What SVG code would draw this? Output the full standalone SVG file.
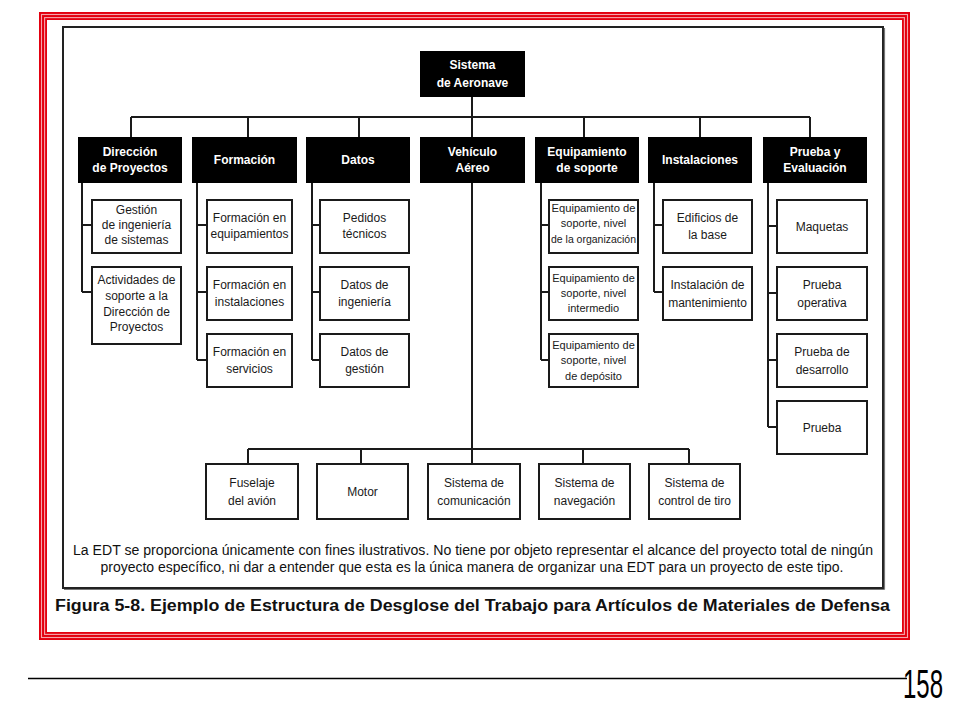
<svg xmlns="http://www.w3.org/2000/svg" width="960" height="720" viewBox="0 0 960 720">
<style>
.hdr{fill:#000}
.hl{font-family:"Liberation Sans",Arial,sans-serif;font-size:12px;font-weight:bold;fill:#fff;text-anchor:middle}
.box{fill:#fff;stroke:#1a1a1a;stroke-width:2}
.bl{font-family:"Liberation Sans",Arial,sans-serif;font-size:12px;fill:#1a1a1a;text-anchor:middle}
.sl{font-family:"Liberation Sans",Arial,sans-serif;font-size:11px;fill:#1a1a1a;text-anchor:middle}
.con{fill:none;stroke:#1a1a1a;stroke-width:2}
.note{font-family:"Liberation Sans",Arial,sans-serif;font-size:14px;fill:#111;text-anchor:middle}
</style>
<rect width="960" height="720" fill="#fff"/>
<!-- red frame -->
<g id="frame">
<rect x="43" y="16" width="863" height="620" fill="none" stroke="#e3000f" stroke-width="8"/>
<rect x="41.5" y="14.5" width="866" height="623" fill="none" stroke="#f4a6ad" stroke-width="1.1"/>
<rect x="44.6" y="17.6" width="859.8" height="616.8" fill="none" stroke="#f4a6ad" stroke-width="1.1"/>
<rect x="63" y="27" width="820" height="561" fill="none" stroke="#222" stroke-width="2"/>
<line x1="64" y1="589.5" x2="884.5" y2="589.5" stroke="#777" stroke-width="1.2"/>
<line x1="884.5" y1="28" x2="884.5" y2="589.5" stroke="#777" stroke-width="1.2"/>
</g>
<!-- connectors -->
<g id="connectors" class="con">
<path d="M472 97V137"/>
<path d="M131 117H810"/>
<path d="M131 117V137M248 117V137M359 117V137M584 117V137M700 117V137M810 117V137"/>
<path d="M82 183V292M82 225H92M82 292H92"/>
<path d="M197 183V360M197 225H207M197 292H207M197 360H207"/>
<path d="M312 183V360M312 225H320M312 292H320M312 360H320"/>
<path d="M541 183V360M541 225H549M541 292H549M541 360H549"/>
<path d="M654 183V292M654 225H663M654 292H663"/>
<path d="M768 183V427M768 226H777M768 293H777M768 360H777M768 427H777"/>
<path d="M472 183V464"/>
<path d="M248 449H689"/>
<path d="M248 449V464M361 449V464M583 449V464M689 449V464"/>
</g>
<!-- root -->
<g id="n-root"><rect class="hdr" x="420" y="51" width="105" height="46"/><text class="hl" x="472.5" y="69">Sistema</text><text class="hl" x="472.5" y="87">de Aeronave</text></g>
<!-- level 1 -->
<g id="n-direccion"><rect class="hdr" x="78" y="137" width="104" height="46"/><text class="hl" x="130" y="156">Dirección</text><text class="hl" x="130" y="172">de Proyectos</text></g>
<g id="n-formacion"><rect class="hdr" x="192" y="137" width="105" height="46"/><text class="hl" x="244.5" y="164">Formación</text></g>
<g id="n-datos"><rect class="hdr" x="306" y="137" width="104" height="46"/><text class="hl" x="358" y="164">Datos</text></g>
<g id="n-vehiculo"><rect class="hdr" x="420" y="137" width="105" height="46"/><text class="hl" x="472.5" y="156">Vehículo</text><text class="hl" x="472.5" y="172">Aéreo</text></g>
<g id="n-equipamiento"><rect class="hdr" x="535" y="137" width="104" height="46"/><text class="hl" x="587" y="156">Equipamiento</text><text class="hl" x="587" y="172">de soporte</text></g>
<g id="n-instalaciones"><rect class="hdr" x="648" y="137" width="104" height="46"/><text class="hl" x="700" y="164">Instalaciones</text></g>
<g id="n-prueba"><rect class="hdr" x="763" y="137" width="104" height="46"/><text class="hl" x="815" y="156">Prueba y</text><text class="hl" x="815" y="172">Evaluación</text></g>
<!-- Dirección children -->
<g id="n-gestion"><rect class="box" x="92" y="200" width="89" height="53"/><text class="bl" x="136.5" y="214">Gestión</text><text class="bl" x="136.5" y="229">de ingeniería</text><text class="bl" x="136.5" y="244">de sistemas</text></g>
<g id="n-actividades"><rect class="box" x="92" y="267" width="89" height="77"/><text class="bl" x="136.5" y="284">Actividades de</text><text class="bl" x="136.5" y="300">soporte a la</text><text class="bl" x="136.5" y="316">Dirección de</text><text class="bl" x="136.5" y="331">Proyectos</text></g>
<!-- Formación children -->
<g id="n-form-equip"><rect class="box" x="207" y="200" width="85" height="53"/><text class="bl" x="249.5" y="222">Formación en</text><text class="bl" x="249.5" y="238">equipamientos</text></g>
<g id="n-form-inst"><rect class="box" x="207" y="267" width="85" height="53"/><text class="bl" x="249.5" y="289">Formación en</text><text class="bl" x="249.5" y="306">instalaciones</text></g>
<g id="n-form-serv"><rect class="box" x="207" y="334" width="85" height="53"/><text class="bl" x="249.5" y="356">Formación en</text><text class="bl" x="249.5" y="373">servicios</text></g>
<!-- Datos children -->
<g id="n-pedidos"><rect class="box" x="320" y="200" width="89" height="53"/><text class="bl" x="364.5" y="222">Pedidos</text><text class="bl" x="364.5" y="238">técnicos</text></g>
<g id="n-datos-ing"><rect class="box" x="320" y="267" width="89" height="53"/><text class="bl" x="364.5" y="289">Datos de</text><text class="bl" x="364.5" y="306">ingeniería</text></g>
<g id="n-datos-gest"><rect class="box" x="320" y="334" width="89" height="53"/><text class="bl" x="364.5" y="356">Datos de</text><text class="bl" x="364.5" y="373">gestión</text></g>
<!-- Equipamiento children -->
<g id="n-eq-org"><rect class="box" x="549" y="200" width="89" height="53"/><text class="sl" x="593.5" y="212" textLength="84" lengthAdjust="spacingAndGlyphs">Equipamiento de</text><text class="sl" x="593.5" y="227">soporte, nivel</text><text class="sl" x="593.5" y="243" textLength="85" lengthAdjust="spacingAndGlyphs">de la organización</text></g>
<g id="n-eq-int"><rect class="box" x="549" y="267" width="89" height="53"/><text class="sl" x="593.5" y="282">Equipamiento de</text><text class="sl" x="593.5" y="297">soporte, nivel</text><text class="sl" x="593.5" y="312">intermedio</text></g>
<g id="n-eq-dep"><rect class="box" x="549" y="334" width="89" height="53"/><text class="sl" x="593.5" y="349">Equipamiento de</text><text class="sl" x="593.5" y="364">soporte, nivel</text><text class="sl" x="593.5" y="380">de depósito</text></g>
<!-- Instalaciones children -->
<g id="n-edificios"><rect class="box" x="663" y="200" width="89" height="53"/><text class="bl" x="707.5" y="222">Edificios de</text><text class="bl" x="707.5" y="239">la base</text></g>
<g id="n-mant"><rect class="box" x="663" y="267" width="89" height="53"/><text class="bl" x="707.5" y="289">Instalación de</text><text class="bl" x="707.5" y="307">mantenimiento</text></g>
<!-- Prueba children -->
<g id="n-maquetas"><rect class="box" x="777" y="200" width="90" height="53"/><text class="bl" x="822" y="231">Maquetas</text></g>
<g id="n-operativa"><rect class="box" x="777" y="267" width="90" height="53"/><text class="bl" x="822" y="289">Prueba</text><text class="bl" x="822" y="307">operativa</text></g>
<g id="n-desarrollo"><rect class="box" x="777" y="334" width="90" height="53"/><text class="bl" x="822" y="356">Prueba de</text><text class="bl" x="822" y="374">desarrollo</text></g>
<g id="n-prueba-final"><rect class="box" x="777" y="401" width="90" height="53"/><text class="bl" x="822" y="432">Prueba</text></g>
<!-- Vehículo children -->
<g id="n-fuselaje"><rect class="box" x="206" y="464" width="92" height="55"/><text class="bl" x="252" y="487">Fuselaje</text><text class="bl" x="252" y="505">del avión</text></g>
<g id="n-motor"><rect class="box" x="317" y="464" width="91" height="55"/><text class="bl" x="362.5" y="496">Motor</text></g>
<g id="n-comunicacion"><rect class="box" x="428" y="464" width="92" height="55"/><text class="bl" x="474" y="487">Sistema de</text><text class="bl" x="474" y="505">comunicación</text></g>
<g id="n-navegacion"><rect class="box" x="539" y="464" width="91" height="55"/><text class="bl" x="584.5" y="487">Sistema de</text><text class="bl" x="584.5" y="505">navegación</text></g>
<g id="n-tiro"><rect class="box" x="649" y="464" width="91" height="55"/><text class="bl" x="694.5" y="487">Sistema de</text><text class="bl" x="694.5" y="505">control de tiro</text></g>
<!-- notes -->
<g id="notes">
<text class="note" x="473" y="555" textLength="800" lengthAdjust="spacingAndGlyphs">La EDT se proporciona únicamente con fines ilustrativos. No tiene por objeto representar el alcance del proyecto total de ningún</text>
<text class="note" x="472" y="572" textLength="743" lengthAdjust="spacingAndGlyphs">proyecto específico, ni dar a entender que esta es la única manera de organizar una EDT para un proyecto de este tipo.</text>
<text x="472.5" y="611" font-family="Liberation Sans,Arial,sans-serif" font-size="16" font-weight="bold" fill="#111" text-anchor="middle" textLength="835" lengthAdjust="spacingAndGlyphs">Figura 5-8. Ejemplo de Estructura de Desglose del Trabajo para Artículos de Materiales de Defensa</text>
</g>
<g id="page">
<line x1="28" y1="678.5" x2="907" y2="678.5" stroke="#000" stroke-width="1.5"/>
<text transform="translate(903,698) scale(0.6,1)" font-family="Liberation Sans,Arial,sans-serif" font-size="40" fill="#000">158</text>
</g>
</svg>
